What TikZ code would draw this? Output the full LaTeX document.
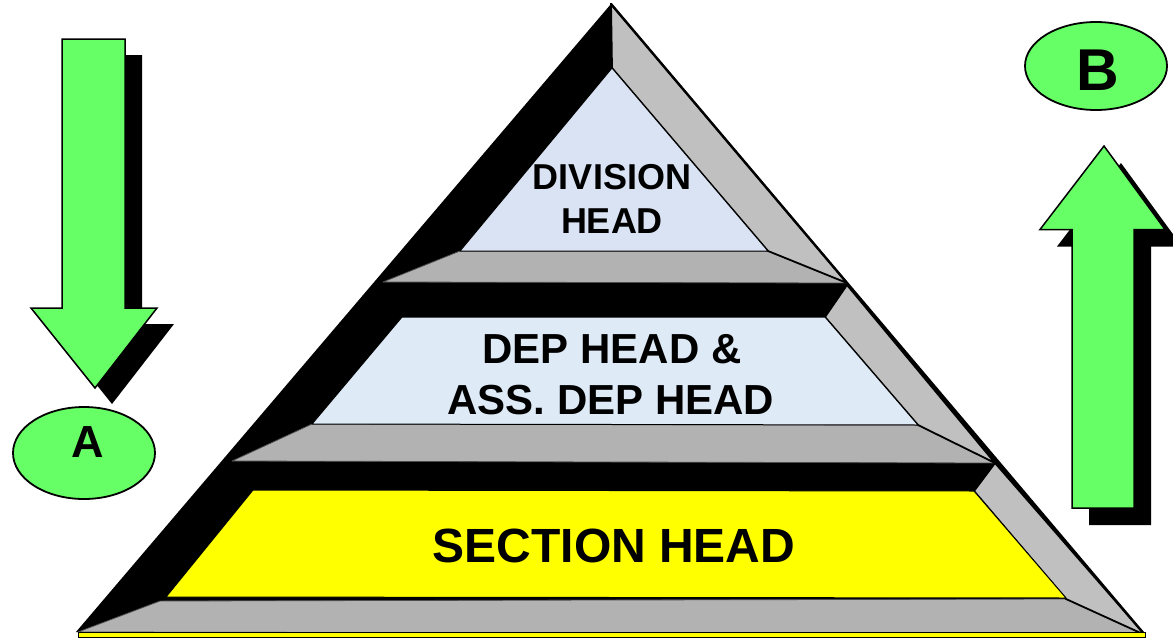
\documentclass[tikz,border=0pt]{standalone}
\usepackage{fontspec}
\setmainfont{Liberation Sans}
\definecolor{arrgreen}{RGB}{102,255,102}
\definecolor{bevlight}{RGB}{192,192,192}
\definecolor{bevdark}{RGB}{178,178,178}
\definecolor{topblue}{RGB}{218,227,243}
\definecolor{midblue}{RGB}{222,234,246}
\definecolor{secyellow}{RGB}{255,255,0}
\tikzset{
  rbevel/.style={fill=bevlight, draw=black, line width=1.8pt, line join=round},
  bbevel/.style={fill=bevdark, draw=black!70, line width=0.8pt, line join=round},
  face/.style={draw=black, line width=1pt, line join=round},
  joint/.style={draw=black, line width=1.8pt},
  garrow/.style={fill=arrgreen, draw=black, line width=1.5pt, line join=miter},
  gshadow/.style={fill=black},
  gell/.style={fill=arrgreen, draw=black, line width=1.8pt},
  lbl/.style={inner sep=0pt, anchor=base, text=black},
}
\begin{document}
\begin{tikzpicture}[x=1pt,y=-1pt]
\useasboundingbox (0,0) rectangle (1173,640);
% pyramid body
\fill[black] (611,4) -- (76,632) -- (1145,635) -- cycle;
% bottom bevels
\draw[bbevel] (383,282) -- (847,283) -- (768,251) -- (460,251) -- cycle;
\draw[bbevel] (232,461) -- (995,463) -- (918,425) -- (312,424) -- cycle;
\draw[bbevel] (78,632) -- (1145,634) -- (1066,599) -- (160,601) -- cycle;
% right bevels
\draw[rbevel] (611,4) -- (847,283) -- (768,251) -- (612,68) -- cycle;
\draw[rbevel] (847,285) -- (995,463) -- (918,425) -- (825,317) -- cycle;
\draw[rbevel] (995,463) -- (1145,635) -- (1066,599) -- (974,491) -- cycle;
% faces
\draw[face, fill=topblue] (612,68) -- (768,251) -- (460,251) -- cycle;
\draw[face, fill=midblue] (402,317) -- (825,317) -- (918,425) -- (312,424) -- cycle;
\draw[face, fill=secyellow] (253,490) -- (974,491) -- (1066,598) -- (166,597) -- cycle;
% outer right edge
\draw[line width=2.4pt, line cap=round] (611,4) -- (1145,635);
% bottom strip
\draw[fill=secyellow, draw=black, line width=1pt] (78,632.5) rectangle (1145,637);
% arrow A (down)
\fill[gshadow, shift={(17,16)}] (62,39) -- (125,39) -- (125,308) -- (157,308) -- (95,388) -- (31,308) -- (62,308) -- cycle;
\draw[garrow] (62,39) -- (125,39) -- (125,308) -- (157,308) -- (95,388) -- (31,308) -- (62,308) -- cycle;
% arrow B (up)
\fill[gshadow, shift={(17,17)}] (1104,146) -- (1165,229.5) -- (1134,229.5) -- (1134,508) -- (1072,508) -- (1072,229.5) -- (1040,229.5) -- cycle;
\draw[garrow] (1104,146) -- (1165,229.5) -- (1134,229.5) -- (1134,508) -- (1072,508) -- (1072,229.5) -- (1040,229.5) -- cycle;
% ellipses
\draw[gell] (84,453) ellipse [x radius=71pt, y radius=46pt];
\draw[gell] (1096,66) ellipse [x radius=71pt, y radius=44pt];
% labels
\node[lbl, font=\fontsize{45}{45}\selectfont\bfseries] (la) at (88,457) {A};
\node[lbl, font=\fontsize{59}{59}\selectfont\bfseries] (lb) at (1098,90) {B};
\node[lbl, font=\fontsize{36}{36}\selectfont\bfseries] (d1) at (612,189) {DIVISION};
\node[lbl, font=\fontsize{36}{36}\selectfont\bfseries] (d2) at (612,233) {HEAD};
\node[lbl, font=\fontsize{42}{42}\selectfont\bfseries] (p1) at (612,363) {DEP HEAD \&};
\node[lbl, font=\fontsize{42}{42}\selectfont\bfseries] (p2) at (611,414) {ASS. DEP HEAD};
\node[lbl, font=\fontsize{48}{48}\selectfont\bfseries] (s1) at (614,562) {SECTION HEAD};
\end{tikzpicture}
\end{document}
